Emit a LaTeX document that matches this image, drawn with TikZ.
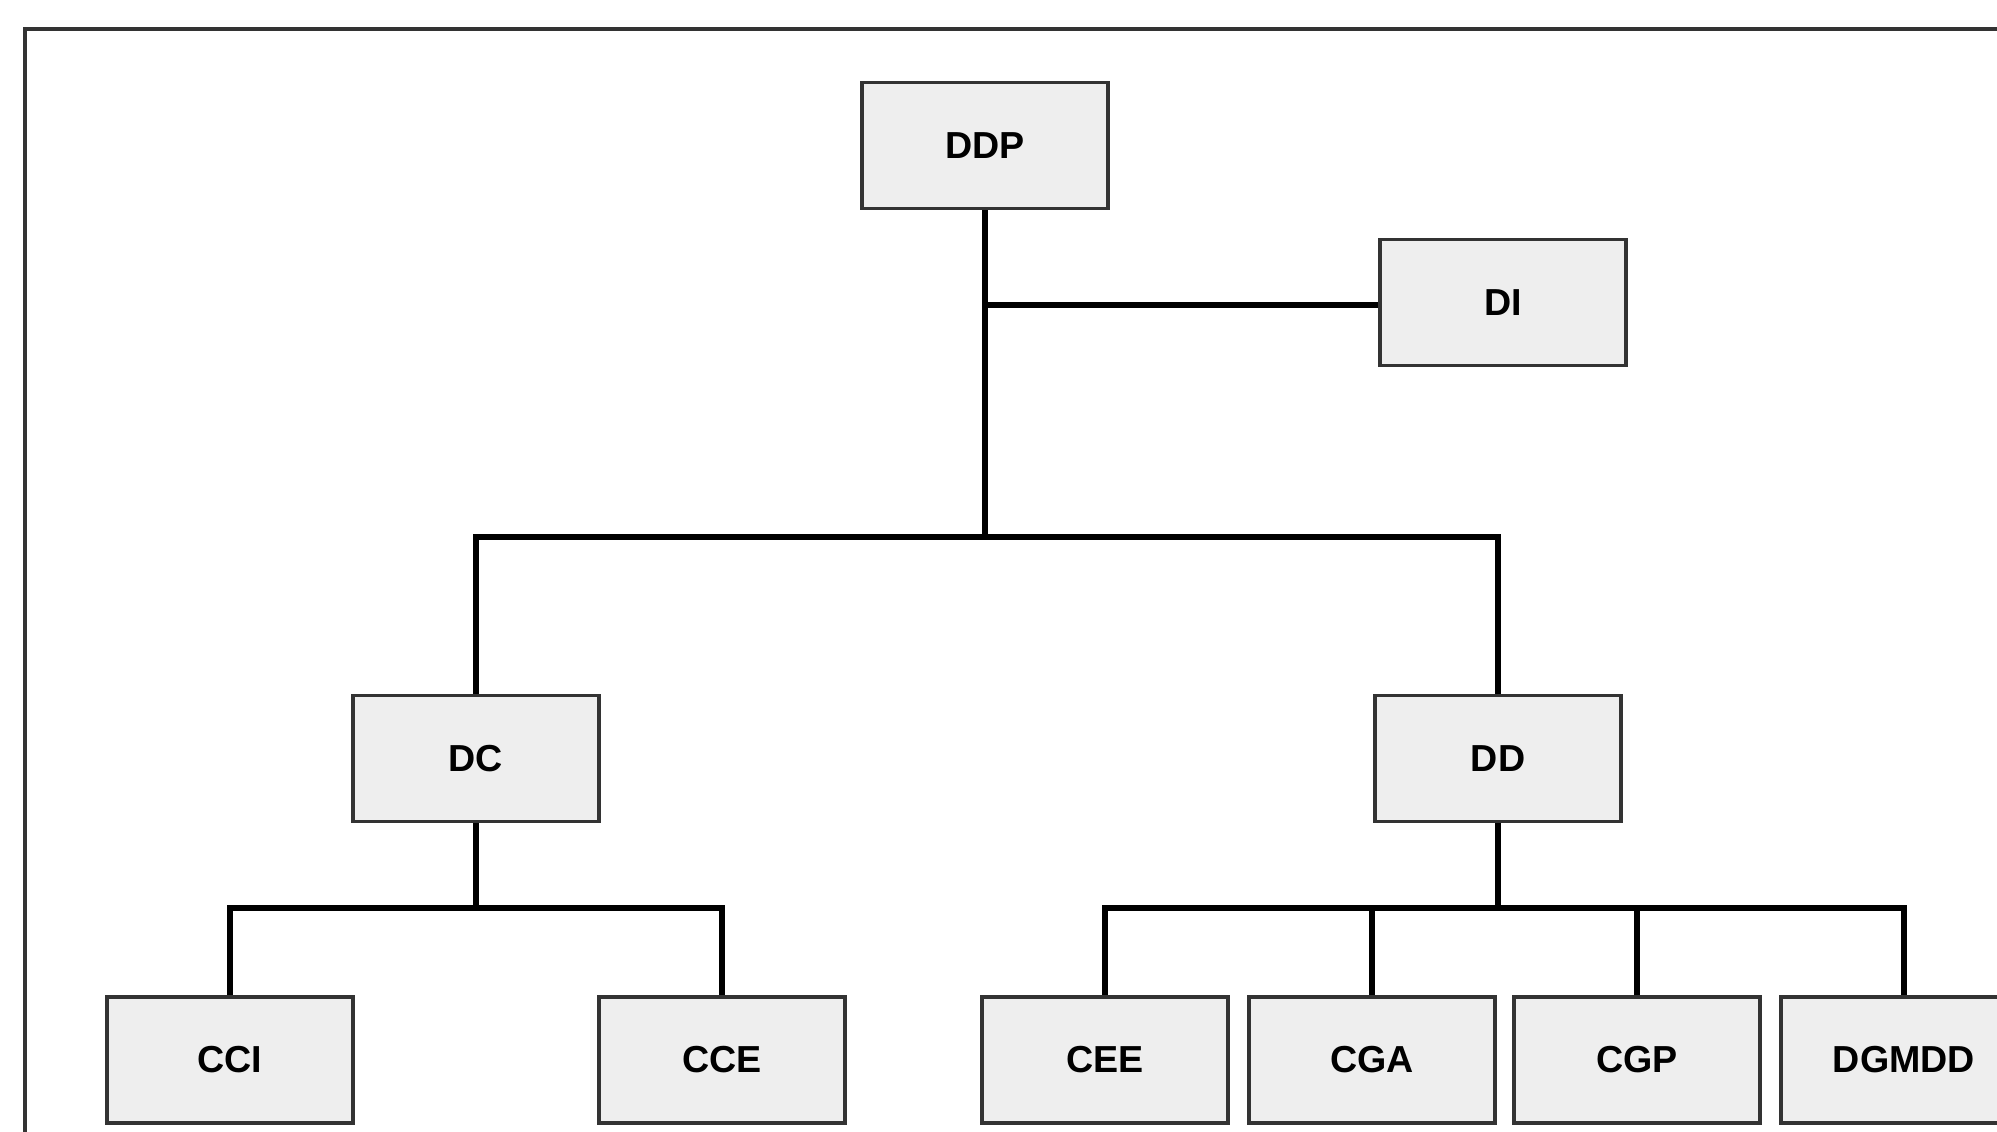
\documentclass[tikz,border=0pt]{standalone}
\usepackage{fontspec}
\setmainfont{Liberation Sans}
\usepackage{tikz}
\usetikzlibrary{calc,positioning}
\definecolor{boxfill}{HTML}{EEEEEE}
\definecolor{boxline}{HTML}{333333}
\tikzset{
  unit/.style={draw=boxline, line width=1.1pt, fill=boxfill, minimum width=2.46cm, minimum height=1.26cm,
    inner sep=0pt, font=\fontsize{10.7}{12}\selectfont\bfseries},
  link/.style={line width=1.45pt, black},
}
\begin{document}
\begin{tikzpicture}
\useasboundingbox (0,0) rectangle (19.97,11.31);
\clip (0,0) rectangle (19.97,11.31);
\fill[white] (0,0) rectangle (19.97,11.31);
\draw[boxline, line width=1.1pt] (0.25,-1) rectangle (21,11.02);
% top level
\node[unit] (ddp) at (9.85,9.855) {DDP};
\node[unit] (di) at (15.03,8.285) {DI};
% second level
\node[unit] (dc) at (4.76,3.725) {DC};
\node[unit] (dd) at (14.98,3.725) {DD};
% bottom row
\node[unit] (cci) at (2.30,0.71) {CCI};
\node[unit] (cce) at (7.22,0.71) {CCE};
\node[unit] (cee) at (11.05,0.71) {CEE};
\node[unit] (cga) at (13.72,0.71) {CGA};
\node[unit] (cgp) at (16.37,0.71) {CGP};
\node[unit] (dgmdd) at (19.04,0.71) {DGMDD};
% junctions
\coordinate (jdi) at (9.85,8.26);
\coordinate (jtop) at (9.85,5.94);
\coordinate (jdc) at (4.76,2.23);
\coordinate (jdd) at (14.98,2.23);
% connectors
\draw[link] (ddp.south) -- (jtop);
\draw[link] (jdi) -- (jdi -| di.west);
\draw[link] (dc.north) |- (jtop) -| (dd.north);
\draw[link] (dc.south) -- (jdc);
\draw[link] (cci.north) |- (jdc) -| (cce.north);
\draw[link] (dd.south) -- (jdd);
\draw[link] (cee.north) |- (jdd) -| (dgmdd.north);
\draw[link] (cga.north) -- (cga.north |- jdd);
\draw[link] (cgp.north) -- (cgp.north |- jdd);
\end{tikzpicture}
\end{document}
